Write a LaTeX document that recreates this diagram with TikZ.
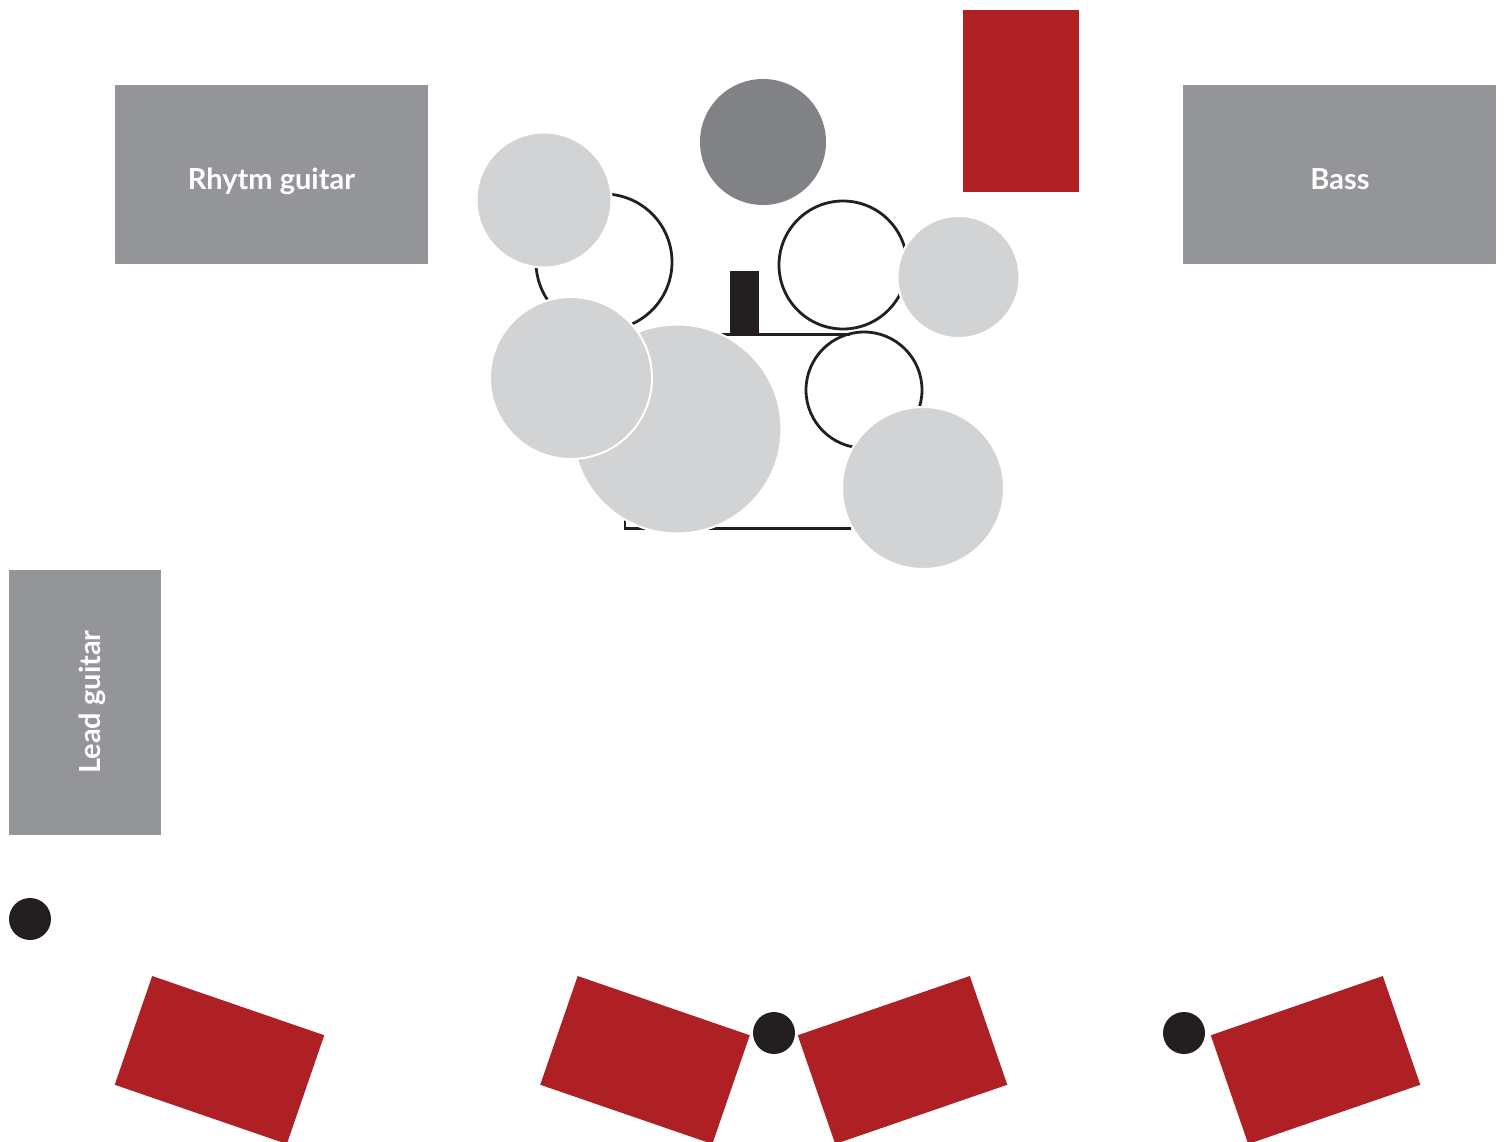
\documentclass[tikz,border=0pt]{standalone}
\usepackage{fontspec}
\setmainfont{Lato}
\definecolor{ampgrey}{HTML}{939598}
\definecolor{drumgrey}{HTML}{D1D3D4}
\definecolor{stoolgrey}{HTML}{808285}
\definecolor{wedgered}{HTML}{AF2025}
\definecolor{micblack}{HTML}{231F20}
\begin{document}
\begin{tikzpicture}[x=1pt,y=-1pt]
\tikzstyle{every node}+=[inner sep=0pt,outer sep=0pt]
\tikzstyle{amp}=[fill=ampgrey,text=white,font=\fontsize{29}{29}\selectfont\bfseries]
\tikzstyle{wedge}=[fill=wedgered,minimum width=182pt,minimum height=115pt]
\tikzstyle{cymbal}=[circle,fill=drumgrey,draw=white,line width=2pt]
\tikzstyle{drum}=[circle,draw=micblack,line width=2.8pt]
\tikzstyle{mic}=[circle,fill=micblack,minimum size=42pt]

\useasboundingbox (0,0) rectangle (1504,1142);

\node (rhythm) [amp,minimum width=313pt,minimum height=179pt] at (271.5,174.5) {};
\node (bass)   [amp,minimum width=313pt,minimum height=179pt] at (1339.5,174.5) {};
\node (lead)   [amp,minimum width=152pt,minimum height=265pt] at (85,702.5) {};
\node (rhythmlabel) [amp,fill=none,anchor=base] at (271.5,190) {Rhytm guitar};
\node (basslabel)   [amp,fill=none,anchor=base] at (1340,190) {Bass};
\node (leadlabel)   [amp,fill=none,anchor=base,rotate=90] at (100.5,702) {Lead guitar};

\node (wedgetop)    [fill=wedgered,minimum width=116pt,minimum height=182pt] at (1021,101) {};
\node (wedgeone)    [wedge,rotate=-19] at (219.5,1060) {};
\node (wedgetwo)    [wedge,rotate=-19] at (645,1060) {};
\node (wedgethree)  [wedge,rotate=19]  at (902.5,1060) {};
\node (wedgefour)   [wedge,rotate=19]  at (1315.5,1060) {};

\node (micone)   [mic] at (30,919) {};
\node (mictwo)   [mic] at (774,1033) {};
\node (micthree) [mic] at (1184,1033) {};

\node (stool) [circle,fill=stoolgrey,minimum size=126pt] at (763,142) {};

% drum kit
\draw[micblack,line width=2.8pt] (850,334.5) -- (625,334.5) -- (625,528.5) -- (851,528.5);
\node (pedal) [fill=micblack,minimum width=29pt,minimum height=64pt] at (744.5,303) {};
\node (tomleft)  [drum,minimum size=136pt] at (604,262) {};
\node (tomright) [drum,minimum size=128pt] at (843,265) {};
\node (floortom) [drum,minimum size=116pt] at (864,390) {};

\node (kick)      [cymbal,minimum size=209pt] at (677,429) {};
\node (crash)     [cymbal,minimum size=135pt] at (544,200) {};
\node (ride)      [cymbal,minimum size=122pt] at (958.5,277) {};
\node (hihat)     [cymbal,minimum size=162pt] at (571,378) {};
\node (china)     [cymbal,minimum size=162pt] at (923,488) {};
\end{tikzpicture}
\end{document}
